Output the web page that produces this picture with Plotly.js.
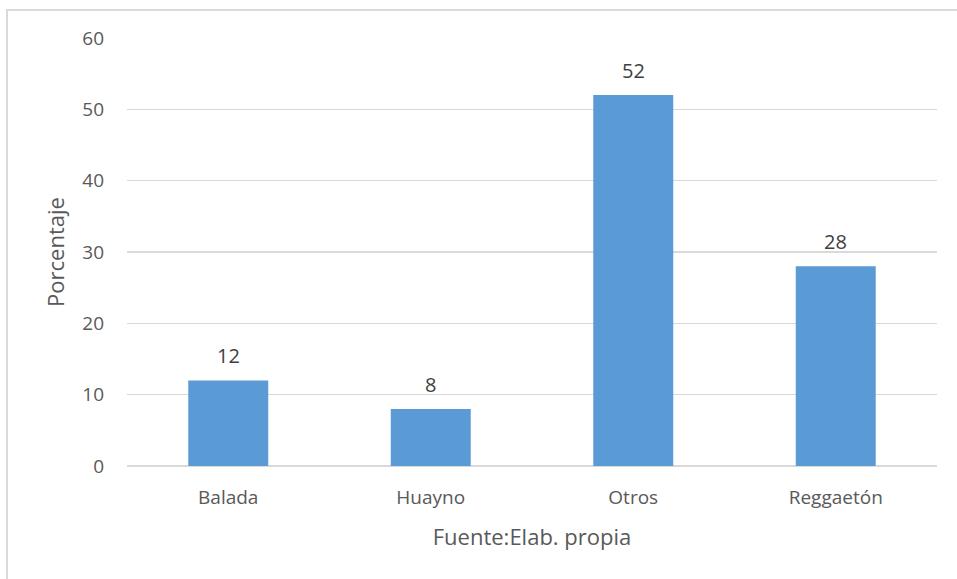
<!DOCTYPE html>
<html>
<head>
<meta charset="utf-8">
<script src="https://cdn.plot.ly/plotly-3.0.1.min.js"></script>
<style>
html,body{margin:0;padding:0;background:#fff;}
#frame{position:absolute;left:6px;top:9px;width:960px;height:580px;border-left:2px solid #d9d9d9;border-top:2px solid #d9d9d9;box-sizing:border-box;}
#chart{position:absolute;left:0;top:0;width:957px;height:579px;}
</style>
</head>
<body>
<div id="frame"></div>
<div id="chart"></div>
<script>
const categories = ["Balada", "Huayno", "Otros", "Reggaetón"];
const percentages = [12, 8, 52, 28];
const yTicks = [0, 10, 20, 30, 40, 50, 60];

const fontFam = "Open Sans, Liberation Sans, sans-serif";

const labels = categories.map((c, i) => ({
  x: c, y: percentages[i], xref: "x", yref: "y",
  text: String(percentages[i]),
  showarrow: false, yanchor: "bottom", yshift: 9,
  font: {family: fontFam, size: 20, color: "#404040"}
}));

Plotly.newPlot("chart", [{
  type: "bar",
  x: categories,
  y: percentages,
  marker: {color: "#5b9bd5"},
  hoverinfo: "none"
}], {
  width: 957,
  height: 579,
  paper_bgcolor: "rgba(0,0,0,0)",
  plot_bgcolor: "rgba(0,0,0,0)",
  margin: {l: 127, r: 20, t: 38, b: 113},
  bargap: 0.605,
  showlegend: false,
  annotations: labels,
  xaxis: {
    showgrid: false,
    showline: false,
    ticks: "",
    tickfont: {family: fontFam, size: 19, color: "#595959"},
    ticklabelstandoff: 18,
    title: {text: "Fuente:Elab. propia", font: {family: fontFam, size: 22, color: "#595959"}, standoff: 20}
  },
  yaxis: {
    range: [0, 60],
    tickvals: yTicks,
    showgrid: true,
    gridcolor: "#d9d9d9",
    gridwidth: 1.5,
    zeroline: true,
    zerolinecolor: "#d9d9d9",
    zerolinewidth: 1.5,
    showline: false,
    ticks: "",
    tickfont: {family: fontFam, size: 19, color: "#595959"},
    ticklabelstandoff: 22,
    title: {text: "Porcentaje", font: {family: fontFam, size: 22, color: "#595959"}, standoff: 11}
  }
}, {displayModeBar: false, staticPlot: true});
</script>
</body>
</html>
